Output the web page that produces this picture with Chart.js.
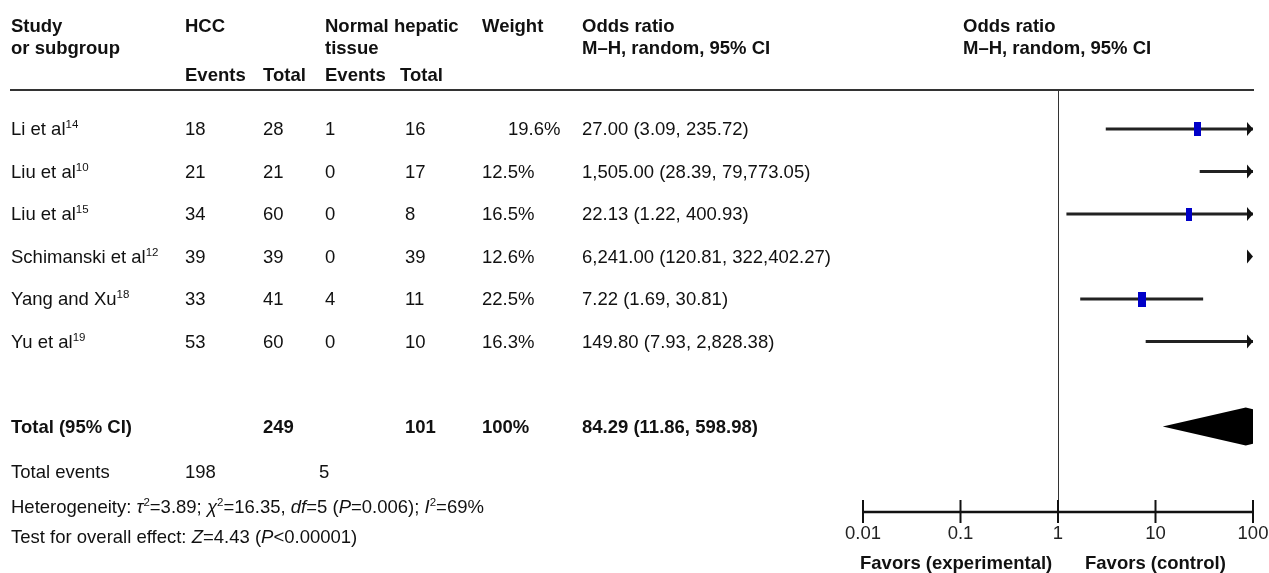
<!DOCTYPE html>
<html>
<head>
<meta charset="utf-8">
<script src="https://cdn.jsdelivr.net/npm/chart.js@4.4.0/dist/chart.umd.min.js"></script>
<style>
  body { margin: 0; background: #fff; }
  #wrap { position: relative; width: 1269px; height: 573px; overflow: hidden;
          font-family: "Liberation Sans", Arial, sans-serif; font-size: 18.5px; color: #111; }
  #forest { position: absolute; left: 0; top: 0; }
  .t { position: absolute; white-space: nowrap; line-height: 22px; }
  .b { font-weight: bold; }
  .s { font-size: 11.5px; position: relative; top: -7px; line-height: 0; }
</style>
</head>
<body>
<div id="wrap"><canvas id="forest" width="1269" height="573"></canvas></div>
<script>
// study data
const studies = ['Li et al', 'Liu et al', 'Liu et al', 'Schimanski et al', 'Yang and Xu', 'Yu et al'];
const refs = ['14', '10', '15', '12', '18', '19'];
const hccEvents = [18, 21, 34, 39, 33, 53];
const hccTotal = [28, 21, 60, 39, 41, 60];
const normEvents = [1, 0, 0, 0, 4, 0];
const normTotal = [16, 17, 8, 39, 11, 10];
const weights = [19.6, 12.5, 16.5, 12.6, 22.5, 16.3];
const orValue = [27.00, 1505.00, 22.13, 6241.00, 7.22, 149.80];
const ciLow = [3.09, 28.39, 1.22, 120.81, 1.69, 7.93];
const ciHigh = [235.72, 79773.05, 400.93, 322402.27, 30.81, 2828.38];
// pooled estimate: OR, low, high
const totalOr = [84.29, 11.86, 598.98];
const xTicks = [0.01, 0.1, 1, 10, 100];

// layout
const rowTop = 129, rowGap = 42.5, totalRow = 8;
const plotTop = 90, plotBottom = 512;
const rowY = r => rowTop + (r - 1) * rowGap;
const col = { study: 11, hccE: 185, hccT: 263, nE: 325, nT: 405, weight: 482, or: 582, plot: 963 };
const weightIndent = [26, 0, 0, 0, 0, 0];

const wrap = document.getElementById('wrap');
function put(html, x, y, cls) {
  const d = document.createElement('div');
  d.className = 't' + (cls ? ' ' + cls : '');
  d.style.left = x + 'px';
  d.style.top = (y - 11) + 'px';
  d.innerHTML = html;
  wrap.appendChild(d);
}
const fmt = v => v.toLocaleString('en-US', { minimumFractionDigits: 2, maximumFractionDigits: 2 });
const sum = a => a.reduce((s, v) => s + v, 0);
const orText = (o, lo, hi) => fmt(o) + ' (' + fmt(lo) + ', ' + fmt(hi) + ')';

// header
put('Study', col.study, 26, 'b');
put('or subgroup', col.study, 48, 'b');
put('HCC', col.hccE, 26, 'b');
put('Normal hepatic', col.nE, 26, 'b');
put('tissue', col.nE, 48, 'b');
put('Weight', col.weight, 26, 'b');
put('Odds ratio', col.or, 26, 'b');
put('M–H, random, 95% CI', col.or, 48, 'b');
put('Events', col.hccE, 75, 'b');
put('Total', col.hccT, 75, 'b');
put('Events', col.nE, 75, 'b');
put('Total', col.nT - 5, 75, 'b');
put('Odds ratio', col.plot, 26, 'b');
put('M–H, random, 95% CI', col.plot, 48, 'b');

// study rows
studies.forEach((s, i) => {
  const y = rowY(i + 1);
  put(s + '<span class="s">' + refs[i] + '</span>', col.study, y);
  put(hccEvents[i], col.hccE, y);
  put(hccTotal[i], col.hccT, y);
  put(normEvents[i], col.nE, y);
  put(normTotal[i], col.nT, y);
  put(weights[i].toFixed(1) + '%', col.weight + weightIndent[i], y);
  put(orText(orValue[i], ciLow[i], ciHigh[i]), col.or, y);
});

// totals
const ty = rowY(totalRow);
put('Total (95% CI)', col.study, ty, 'b');
put(sum(hccTotal), col.hccT, ty, 'b');
put(sum(normTotal), col.nT, ty, 'b');
put('100%', col.weight, ty, 'b');
put(orText(totalOr[0], totalOr[1], totalOr[2]), col.or, ty, 'b');
put('Total events', col.study, 472);
put(sum(hccEvents), col.hccE, 472);
put(sum(normEvents), col.nE - 6, 472);
put('Heterogeneity: <i>τ</i><span class="s">2</span>=3.89; <i>χ</i><span class="s">2</span>=16.35, <i>df</i>=5 (<i>P</i>=0.006); <i>I</i><span class="s">2</span>=69%', col.study, 507);
put('Test for overall effect: <i>Z</i>=4.43 (<i>P</i>&lt;0.00001)', col.study, 537);
put('Favors (experimental)', 860, 563, 'b');
put('Favors (control)', 1085, 563, 'b');

// point marker: blue box sized by weight
function box(w) {
  const c = document.createElement('canvas');
  c.width = Math.round(1.6 * Math.sqrt(w));
  c.height = Math.round(3.2 * Math.sqrt(w));
  const g = c.getContext('2d');
  g.fillStyle = '#0000c8';
  g.fillRect(0, 0, c.width, c.height);
  return c;
}

const forestPlugin = {
  id: 'forest',
  beforeDatasetsDraw(chart) {
    const { ctx, chartArea: a, scales: { x } } = chart;
    ctx.save();
    ctx.strokeStyle = '#333';
    ctx.lineWidth = 2;
    ctx.beginPath();
    ctx.moveTo(10, a.top);
    ctx.lineTo(a.right + 1, a.top);
    ctx.stroke();
    const x1 = Math.round(x.getPixelForValue(1)) + 0.5;
    ctx.lineWidth = 1;
    ctx.beginPath();
    ctx.moveTo(x1, a.top);
    ctx.lineTo(x1, a.bottom);
    ctx.stroke();
    ctx.restore();
  },
  afterDatasetsDraw(chart) {
    const { ctx, chartArea: a, scales: { x, y } } = chart;
    ctx.save();
    ctx.fillStyle = '#111';
    // arrows for intervals running off the axis
    ciHigh.forEach((hi, i) => {
      if (hi <= x.max) return;
      const py = y.getPixelForValue(i + 1);
      ctx.beginPath();
      ctx.moveTo(a.right, py);
      ctx.lineTo(a.right - 6, py - 7);
      ctx.lineTo(a.right - 6, py + 7);
      ctx.closePath();
      ctx.fill();
    });
    // pooled diamond, clipped to the plot
    ctx.save();
    ctx.beginPath();
    ctx.rect(a.left, a.top, a.right - a.left, a.bottom - a.top);
    ctx.clip();
    const dy = y.getPixelForValue(totalRow);
    ctx.fillStyle = '#000';
    ctx.beginPath();
    ctx.moveTo(x.getPixelForValue(totalOr[1]), dy);
    ctx.lineTo(x.getPixelForValue(totalOr[0]), dy - 19);
    ctx.lineTo(x.getPixelForValue(totalOr[2]), dy);
    ctx.lineTo(x.getPixelForValue(totalOr[0]), dy + 19);
    ctx.closePath();
    ctx.fill();
    ctx.restore();
    // axis line and ticks
    ctx.strokeStyle = '#111';
    ctx.lineWidth = 2.5;
    ctx.beginPath();
    ctx.moveTo(x.getPixelForValue(xTicks[0]), a.bottom);
    ctx.lineTo(x.getPixelForValue(xTicks[xTicks.length - 1]), a.bottom);
    ctx.stroke();
    ctx.lineWidth = 2;
    xTicks.forEach(v => {
      const px = x.getPixelForValue(v);
      ctx.beginPath();
      ctx.moveTo(px, a.bottom - 12);
      ctx.lineTo(px, a.bottom + 11);
      ctx.stroke();
    });
    ctx.restore();
  }
};

const datasets = [{
  type: 'scatter',
  data: orValue.map((v, i) => ({ x: v, y: i + 1 })),
  pointStyle: c => box(weights[c.dataIndex]),
  clip: 0
}];
studies.forEach((s, i) => {
  datasets.push({
    type: 'line',
    data: [{ x: ciLow[i], y: i + 1 }, { x: ciHigh[i], y: i + 1 }],
    borderColor: '#222',
    borderWidth: 3,
    pointRadius: 0,
    clip: 0
  });
});

Chart.defaults.font.family = '"Liberation Sans", Arial, sans-serif';

new Chart(document.getElementById('forest'), {
  type: 'scatter',
  data: { datasets },
  options: {
    responsive: false,
    animation: false,
    layout: { padding: { left: 863, right: 16, top: plotTop, bottom: 0 } },
    plugins: { legend: { display: false }, tooltip: { enabled: false } },
    scales: {
      x: {
        type: 'logarithmic',
        min: xTicks[0],
        max: xTicks[xTicks.length - 1],
        grid: { display: false },
        border: { display: false },
        afterBuildTicks: s => { s.ticks = xTicks.map(v => ({ value: v })); },
        afterFit: s => {
          s.height = 573 - plotBottom;
          s.paddingLeft = 0;
          s.paddingRight = 0;
        },
        ticks: {
          autoSkip: false,
          maxRotation: 0,
          padding: 3,
          color: '#222',
          font: { size: 18.5 },
          callback: v => String(v)
        }
      },
      y: {
        type: 'linear',
        display: false,
        reverse: true,
        min: 1 + (plotTop - rowTop) / rowGap,
        max: 1 + (plotBottom - rowTop) / rowGap
      }
    }
  },
  plugins: [forestPlugin]
});
</script>
</body>
</html>
